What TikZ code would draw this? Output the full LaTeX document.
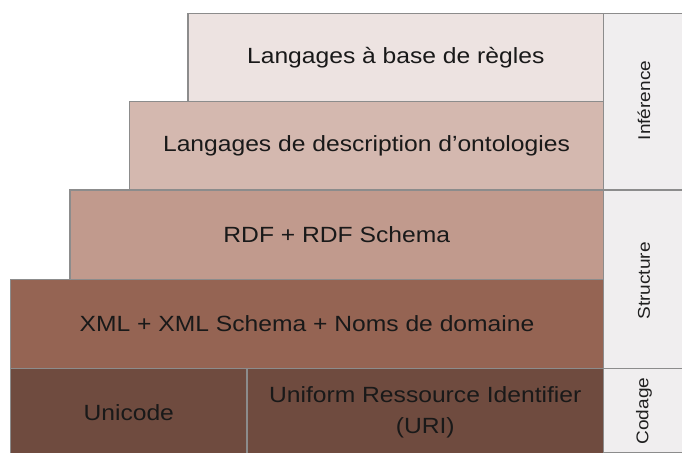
\documentclass[tikz,border=0pt]{standalone}
\usepackage{fontspec}
\setmainfont{Liberation Sans}
\newfontfamily\widesans[FakeStretch=1.12]{Liberation Sans}
\begin{document}
\begin{tikzpicture}[x=1pt,y=1pt,
  layer/.style={draw=black!45, line width=1.2pt, inner sep=0pt, outer sep=0pt, text=black!90,
    font=\widesans\fontsize{22}{31}\selectfont, align=center},
  side/.style={draw=black!45, line width=1.2pt, inner sep=0pt, outer sep=0pt, fill=sidecol},
  sidetext/.style={rotate=90, text=black!88, font=\widesans\fontsize{17}{20}\selectfont}]
\definecolor{cA}{HTML}{EDE3E1}
\definecolor{cB}{HTML}{D4B8AF}
\definecolor{cC}{HTML}{C19A8D}
\definecolor{cD}{HTML}{956453}
\definecolor{cE}{HTML}{6F4B3F}
\definecolor{sidecol}{HTML}{F0EEEF}
\useasboundingbox (0,0) rectangle (682,452);
% right column
\node[side, minimum width=82, minimum height=176.5] (inf) at (644.5,350.25) {};
\node[side, minimum width=82, minimum height=178.5] (str) at (644.5,172.75) {};
\node[side, minimum width=82, minimum height=84.5] (cod) at (644.5,41.25) {};
\node[sidetext] (infl) at (644,351.5) {Inférence};
\node[sidetext] (strl) at (644,171) {Structure};
\node[sidetext] (codl) at (644,41) {Codage};
% layers
\node[layer, fill=cA, minimum width=415.5, minimum height=88] (rules) at (395.75,394.5) {Langages à base de règles};
\node[layer, fill=cB, minimum width=474, minimum height=88.5] (onto) at (366.5,306.25) {Langages de description d’ontologies};
\node[layer, fill=cC, minimum width=533.5, minimum height=89.5] (rdf) at (336.75,217.25) {RDF + RDF Schema};
\node[layer, fill=cD, minimum width=593, minimum height=89] (xml) at (307,128) {XML + XML Schema + Noms de domaine};
\node[layer, fill=cE, minimum width=236.5, minimum height=88] (uni) at (128.75,39.75) {Unicode};
\node[layer, fill=cE, minimum width=356.5, minimum height=88] (uri) at (425.25,39.75) {Uniform Ressource Identifier\\(URI)};
\end{tikzpicture}
\end{document}
